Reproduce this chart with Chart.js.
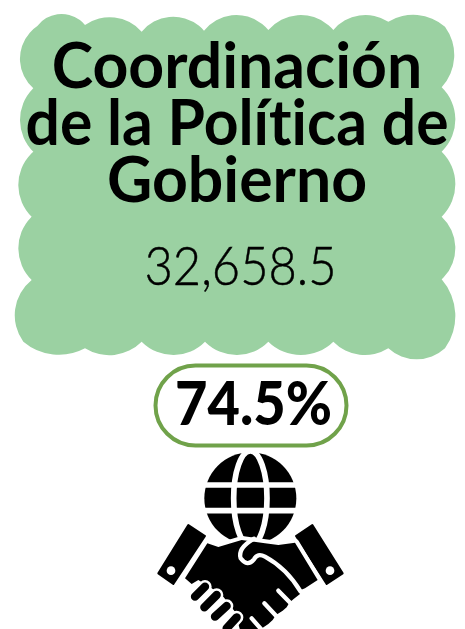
<!DOCTYPE html>
<html>
<head>
<meta charset="utf-8">
<script src="https://cdn.jsdelivr.net/npm/chart.js@4"></script>
<style>
html, body { margin: 0; padding: 0; background: #fff; }
canvas { display: block; }
</style>
</head>
<body>
<canvas id="card" width="465" height="629"></canvas>
<script>
// Data
const titleLines = ['Coordinación', 'de la Política de', 'Gobierno'];
const amountValues = [32658.5];
const shareValues = [74.5];

const GREEN_LIGHT = '#9BD1A2';
const GREEN_DARK = '#70A24A';

// Cloud outline, traced in 3x zoom pixels: start point then [through, end] arcs
const cloudStart = [100, 265];
const cloudArcs = [
    [[60, 170], [112, 78]], [[190, 42], [255, 75]], [[340, 52], [425, 95]], [[520, 50], [612, 92]],
    [[710, 45], [805, 90]], [[900, 45], [1000, 90]], [[1090, 45], [1165, 65]], [[1250, 45], [1335, 80]],
    [[1362, 150], [1325, 262]], [[1366, 360], [1325, 455]], [[1366, 550], [1325, 650]], [[1366, 745], [1325, 838]],
    [[1366, 945], [1335, 1045]], [[1250, 1078], [1165, 1045]], [[1090, 1065], [1000, 1025]], [[900, 1065], [805, 1025]],
    [[710, 1065], [615, 1025]], [[520, 1065], [425, 1025]], [[340, 1065], [255, 1045]], [[150, 1062], [70, 1025]],
    [[45, 960], [95, 840]], [[55, 745], [95, 650]], [[55, 550], [100, 455]], [[60, 360], [100, 265]]
];

function arcThrough(ctx, a, b, c) {
    const d = 2 * (a[0] * (b[1] - c[1]) + b[0] * (c[1] - a[1]) + c[0] * (a[1] - b[1]));
    const sa = a[0] * a[0] + a[1] * a[1], sb = b[0] * b[0] + b[1] * b[1], sc = c[0] * c[0] + c[1] * c[1];
    const ux = (sa * (b[1] - c[1]) + sb * (c[1] - a[1]) + sc * (a[1] - b[1])) / d;
    const uy = (sa * (c[0] - b[0]) + sb * (a[0] - c[0]) + sc * (b[0] - a[0])) / d;
    const r = Math.hypot(a[0] - ux, a[1] - uy);
    const a0 = Math.atan2(a[1] - uy, a[0] - ux), a1 = Math.atan2(c[1] - uy, c[0] - ux);
    // clockwise on screen when the determinant is positive
    ctx.arc(ux, uy, r, a0, a1, d < 0);
}

function drawCloud(ctx) {
    ctx.save();
    ctx.scale(1 / 3, 1 / 3);
    ctx.beginPath();
    ctx.moveTo(cloudStart[0], cloudStart[1]);
    let from = cloudStart;
    cloudArcs.forEach(seg => {
        arcThrough(ctx, from, seg[0], seg[1]);
        from = seg[1];
    });
    ctx.closePath();
    ctx.fillStyle = GREEN_LIGHT;
    ctx.fill();
    ctx.restore();
}

function drawPill(ctx) {
    ctx.beginPath();
    ctx.roundRect(155.5, 365.5, 191, 80, 40);
    ctx.fillStyle = '#fff';
    ctx.fill();
    ctx.lineWidth = 4;
    ctx.strokeStyle = GREEN_DARK;
    ctx.stroke();
}

function polyPath(ctx, pts) {
    ctx.beginPath();
    pts.forEach((p, i) => i ? ctx.lineTo(p[0], p[1]) : ctx.moveTo(p[0], p[1]));
    ctx.closePath();
}

function segment(ctx, s) {
    ctx.beginPath();
    ctx.moveTo(s[0], s[1]);
    ctx.lineTo(s[2], s[3]);
    ctx.stroke();
}

// Icon, traced in 3x zoom pixels of the crop that starts at (150, 450)
function drawIcon(ctx) {
    ctx.save();
    ctx.translate(150, 450);
    ctx.scale(1 / 3, 1 / 3);
    ctx.fillStyle = '#000';
    ctx.lineJoin = 'round';
    ctx.lineCap = 'round';

    // globe
    ctx.beginPath();
    ctx.arc(301, 145, 138, 0, Math.PI * 2);
    ctx.fill();
    ctx.strokeStyle = '#fff';
    ctx.lineWidth = 17;
    segment(ctx, [150, 105, 450, 105]);
    segment(ctx, [150, 182, 450, 182]);
    ctx.beginPath();
    ctx.ellipse(301, 145, 50, 142, 0, 0, Math.PI * 2);
    ctx.stroke();

    // cuffs
    ctx.strokeStyle = '#000';
    [[[115, 225], [165, 258], [70, 402], [25, 370]], [[487, 225], [438, 258], [530, 402], [578, 370]]].forEach(c => {
        polyPath(ctx, c);
        ctx.lineWidth = 6;
        ctx.stroke();
        ctx.fill();
    });
    ctx.fillStyle = '#fff';
    [[63, 362], [540, 362]].forEach(h => {
        ctx.beginPath();
        ctx.arc(h[0], h[1], 13, 0, Math.PI * 2);
        ctx.fill();
    });

    // hands with a white halo
    const hands = [[172, 280], [205, 291], [275, 270], [345, 280], [385, 285], [435, 278], [503, 390], [465, 415],
        [452, 420], [450, 432], [430, 448], [418, 458], [410, 472], [398, 482], [378, 495], [368, 510], [355, 522],
        [336, 535], [330, 540], [270, 540], [255, 485], [220, 440], [185, 415], [145, 390], [125, 402], [105, 385]];
    ctx.strokeStyle = '#fff';
    ctx.lineWidth = 24;
    polyPath(ctx, hands);
    ctx.stroke();
    ctx.fillStyle = '#000';
    polyPath(ctx, hands);
    ctx.fill();

    // thumb seam
    ctx.lineWidth = 13;
    ctx.beginPath();
    ctx.moveTo(312, 266);
    ctx.quadraticCurveTo(262, 295, 272, 325);
    ctx.quadraticCurveTo(292, 352, 312, 328);
    ctx.quadraticCurveTo(322, 308, 345, 320);
    ctx.quadraticCurveTo(410, 355, 452, 425);
    ctx.stroke();

    // right hand finger slots
    segment(ctx, [385, 422, 430, 468]);
    segment(ctx, [343, 460, 385, 505]);
    segment(ctx, [305, 505, 340, 545]);

    // left hand fingers
    const fingers = [[135, 440, 165, 410], [163, 472, 200, 435], [195, 500, 230, 468], [230, 535, 260, 502]];
    ctx.lineWidth = 40;
    fingers.forEach(f => segment(ctx, f));
    ctx.strokeStyle = '#000';
    ctx.lineWidth = 25;
    fingers.forEach(f => segment(ctx, f));
    ctx.restore();
}

const cardPlugin = {
    id: 'card',
    beforeDraw(chart) {
        const ctx = chart.ctx;
        ctx.save();
        drawCloud(ctx);
        drawPill(ctx);
        drawIcon(ctx);

        ctx.fillStyle = '#000';
        ctx.textAlign = 'center';
        ctx.textBaseline = 'alphabetic';
        ctx.letterSpacing = '0.01px'; // keeps the "ti" ligature off

        ctx.font = 'bold 62.5px Lato';
        const titleY = [88, 145, 202];
        titleLines.forEach((line, i) => ctx.fillText(line, 237, titleY[i], 423));

        ctx.font = '300 54px Lato';
        const amountText = amountValues[0].toLocaleString('en-US', { minimumFractionDigits: 1 });
        ctx.fillText(amountText, 240.5, 285, 192);
        ctx.strokeStyle = '#000';
        ctx.lineWidth = 0.5;
        ctx.strokeText(amountText, 240.5, 285, 192);

        ctx.font = '900 60px Lato';
        ctx.fillText(shareValues[0].toFixed(1) + '%', 253.5, 425, 157);
        ctx.restore();
    }
};

new Chart(document.getElementById('card'), {
    type: 'bar',
    data: {
        labels: [titleLines.join(' ')],
        datasets: [{ data: amountValues, backgroundColor: 'transparent' }]
    },
    options: {
        responsive: false,
        animation: false,
        plugins: { legend: { display: false }, tooltip: { enabled: false } },
        scales: { x: { display: false }, y: { display: false } }
    },
    plugins: [cardPlugin]
});
</script>
</body>
</html>
